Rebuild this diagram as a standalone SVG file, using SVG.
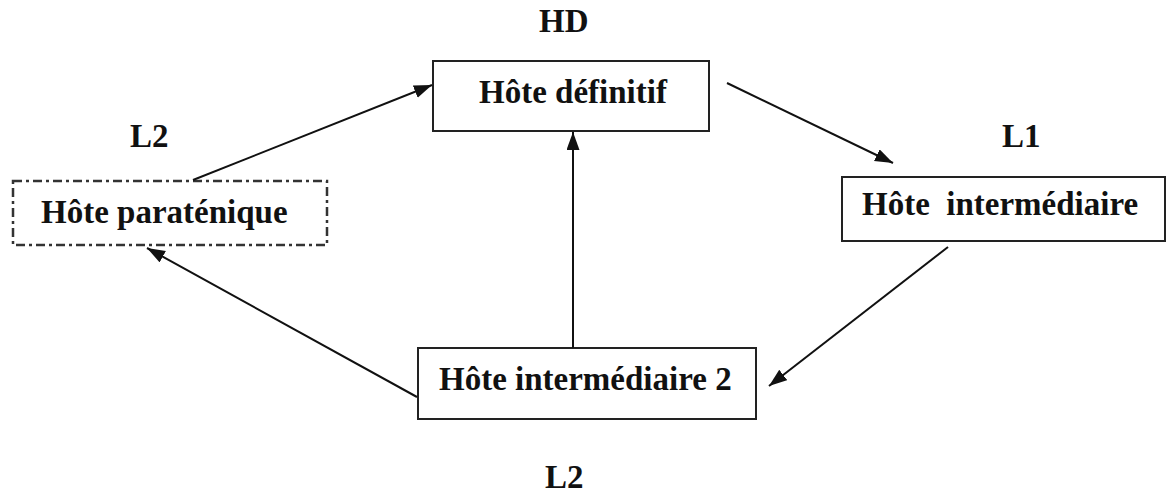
<svg xmlns="http://www.w3.org/2000/svg" width="1167" height="495" viewBox="0 0 1167 495">
<style>
.t{font-family:"Liberation Serif","Times New Roman",serif;font-weight:bold;font-size:33px;fill:#111}
.box{fill:#fff;stroke:#222;stroke-width:2}
.dash{fill:#fff;stroke:#333;stroke-width:2.5;stroke-dasharray:9 4 3 4}
.c{stroke:#111;stroke-width:2;fill:none;marker-end:url(#ah)}
</style>
<defs>
<marker id="ah" markerUnits="userSpaceOnUse" markerWidth="19" markerHeight="14" refX="18" refY="6.5" orient="auto">
<path d="M0,0 L18,6.5 L0,13 z" fill="#111"/>
</marker>
</defs>
<rect width="1167" height="495" fill="#fff"/>
<g id="labels">
<text class="t" x="539" y="32">HD</text>
<text class="t" x="130" y="147">L2</text>
<text class="t" x="1002" y="147">L1</text>
<text class="t" x="545" y="488">L2</text>
</g>
<g id="hote-definitif">
<rect class="box" x="433" y="61" width="276" height="70"/>
<text class="t" x="479" y="103">Hôte définitif</text>
</g>
<g id="hote-paratenique">
<rect class="dash" x="13" y="181" width="314" height="64"/>
<text class="t" x="41" y="223">Hôte paraténique</text>
</g>
<g id="hote-intermediaire">
<rect class="box" x="842" y="177" width="323" height="64"/>
<text class="t" x="862" y="215" xml:space="preserve">Hôte  intermédiaire</text>
</g>
<g id="hote-intermediaire-2">
<rect class="box" x="418" y="348" width="338" height="71"/>
<text class="t" x="439" y="390">Hôte intermédiaire 2</text>
</g>
<g id="connectors">
<line class="c" x1="193" y1="180" x2="432" y2="85"/>
<line class="c" x1="727" y1="83" x2="893" y2="163"/>
<line class="c" x1="948" y1="247" x2="769" y2="386"/>
<line class="c" x1="573" y1="348" x2="573" y2="132"/>
<line class="c" x1="417" y1="397" x2="147" y2="248"/>
</g>
</svg>
